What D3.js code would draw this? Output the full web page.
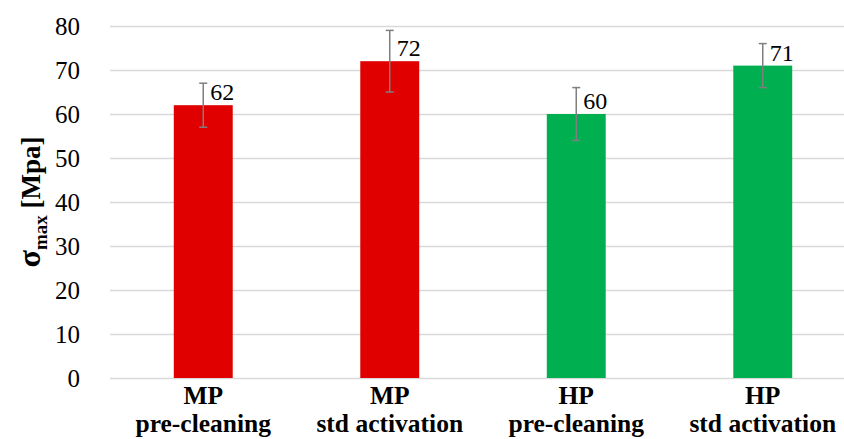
<!DOCTYPE html>
<html>
<head>
<meta charset="utf-8">
<script src="https://cdn.jsdelivr.net/npm/d3@7"></script>
<style>
  html, body { margin: 0; padding: 0; background: #fff; }
  svg { display: block; }
  svg text { font-family: 'Liberation Serif', 'Times New Roman', serif; fill: #000; }
</style>
</head>
<body>
<svg id="chart" width="844" height="439"></svg>
<script>
// Maximum stress per surface treatment
const groups = ["MP", "MP", "HP", "HP"];
const treatments = ["pre-cleaning", "std activation", "pre-cleaning", "std activation"];
const sigmaMax = [62, 72, 60, 71];
const errorPlus = [5, 7, 6, 5];
const errorMinus = [5, 7, 6, 5];
const barColors = ["#e00000", "#e00000", "#00b050", "#00b050"];
const yTicks = [0, 10, 20, 30, 40, 50, 60, 70, 80];

const svg = d3.select("#chart");
const plotLeft = 110, plotRight = 856, plotTop = 26, plotBottom = 378;

const idx = d3.range(sigmaMax.length);
const x = d3.scaleBand().domain(idx).range([plotLeft, plotRight])
  .paddingInner(0.684).paddingOuter(0.342);
const y = d3.scaleLinear().domain([0, 80]).range([plotBottom, plotTop]);

// gridlines + tick labels
const yAxis = d3.axisLeft(y).tickValues(yTicks).tickSize(-(plotRight - plotLeft)).tickPadding(30);
const gy = svg.append("g").attr("transform", `translate(${plotLeft},0)`).call(yAxis)
  .attr("font-family", null).attr("font-size", null);
gy.select(".domain").remove();
gy.selectAll(".tick line").attr("stroke", "#d9d9d9").attr("stroke-width", 1.3);
gy.selectAll(".tick text").style("font-size", "25px").attr("fill", null).attr("dy", "0.34em");

// bars
svg.append("g").selectAll("rect").data(idx).join("rect")
  .attr("x", i => x(i)).attr("width", x.bandwidth())
  .attr("y", i => y(sigmaMax[i])).attr("height", i => y(0) - y(sigmaMax[i]))
  .attr("fill", i => barColors[i]);

// error bars
const eb = svg.append("g").attr("stroke", "#7f7f7f").attr("stroke-width", 1.5);
idx.forEach(i => {
  const cx = x(i) + x.bandwidth() / 2;
  const hi = y(sigmaMax[i] + errorPlus[i]), lo = y(sigmaMax[i] - errorMinus[i]);
  eb.append("line").attr("x1", cx).attr("x2", cx).attr("y1", hi).attr("y2", lo);
  eb.append("line").attr("x1", cx - 4).attr("x2", cx + 4).attr("y1", hi).attr("y2", hi);
  eb.append("line").attr("x1", cx - 4).attr("x2", cx + 4).attr("y1", lo).attr("y2", lo);
});

// value labels
svg.append("g").selectAll("text").data(idx).join("text")
  .attr("x", i => x(i) + x.bandwidth() / 2 + 7)
  .attr("y", i => y(sigmaMax[i]) - 5)
  .style("font-size", "24px")
  .text(i => sigmaMax[i]);

// category labels
const cat = svg.append("g").attr("text-anchor", "middle");
idx.forEach(i => {
  const cx = x(i) + x.bandwidth() / 2;
  cat.append("text").attr("x", cx).attr("y", 404)
    .style("font-size", "25.5px").style("font-weight", "bold").text(groups[i]);
  cat.append("text").attr("x", cx).attr("y", 432)
    .style("font-size", "25.5px").style("font-weight", "bold").text(treatments[i]);
});

// y-axis title: sigma with "max" subscript
const title = svg.append("text")
  .attr("transform", `translate(40,${(plotTop + plotBottom) / 2}) rotate(-90)`)
  .attr("text-anchor", "middle").style("font-weight", "bold");
title.append("tspan").style("font-size", "32px").text("σ");
title.append("tspan").style("font-size", "19px").attr("dy", 7).text("max");
title.append("tspan").style("font-size", "27px").attr("dy", -7).text(" [Mpa]");
</script>
</body>
</html>
